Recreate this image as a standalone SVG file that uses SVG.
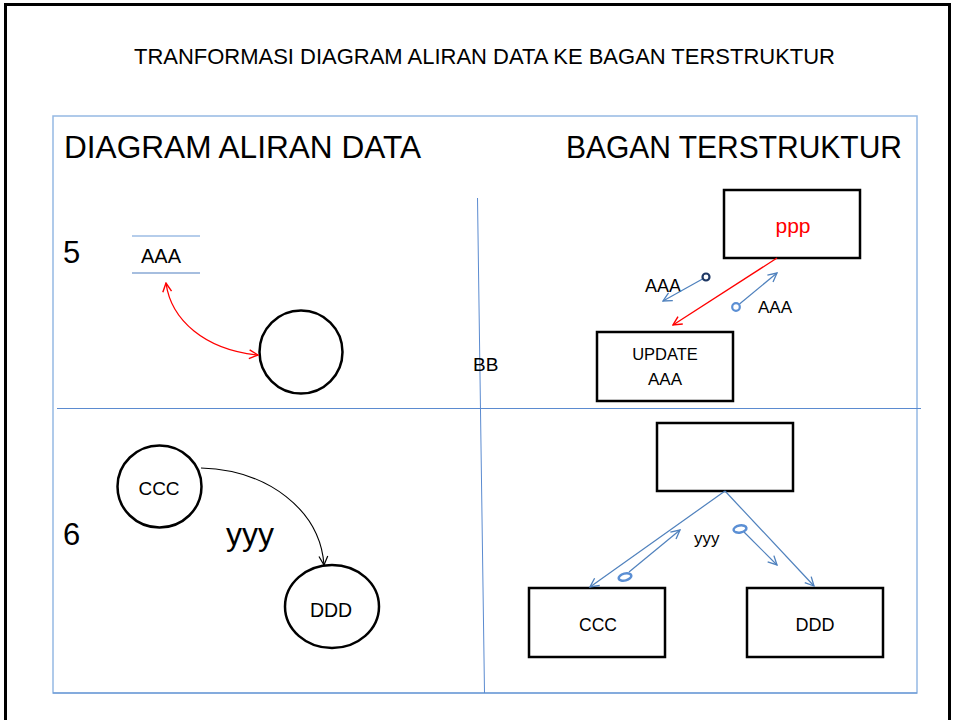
<svg xmlns="http://www.w3.org/2000/svg" width="954" height="720" viewBox="0 0 954 720">
  <style>
    text { font-family: "Liberation Sans", Arial, sans-serif; fill: #000; }
    .box { fill: #fff; stroke: #000; stroke-width: 2.5; }
    .bubble { fill: #fff; stroke: #000; stroke-width: 2.5; }
    .grid { stroke: #5b8bd0; stroke-width: 1; fill: none; }
    .flow-blue { stroke: #4f81bd; stroke-width: 1.2; fill: none; }
    .flow-red { stroke: #ff0000; stroke-width: 1.3; fill: none; }
    .flow-black { stroke: #000; stroke-width: 1.1; fill: none; }
    .couple { fill: #fff; stroke: #5b8fd4; stroke-width: 2.5; }
  </style>
  <defs>
    <marker id="arrow-red" viewBox="0 0 10 10" refX="9" refY="5" markerWidth="11" markerHeight="11" markerUnits="userSpaceOnUse" orient="auto-start-reverse">
      <path d="M1,1 L9,5 L1,9" fill="none" stroke="#ff0000" stroke-width="1.3"/>
    </marker>
    <marker id="arrow-blue" viewBox="0 0 10 10" refX="9" refY="5" markerWidth="11" markerHeight="11" markerUnits="userSpaceOnUse" orient="auto">
      <path d="M1,1 L9,5 L1,9" fill="none" stroke="#4f81bd" stroke-width="1.2"/>
    </marker>
    <marker id="arrow-black" viewBox="0 0 10 10" refX="9" refY="5" markerWidth="11" markerHeight="11" markerUnits="userSpaceOnUse" orient="auto">
      <path d="M1,1 L9,5 L1,9" fill="none" stroke="#000" stroke-width="1.1"/>
    </marker>
  </defs>

  <!-- page frame -->
  <rect x="0" y="0" width="954" height="720" fill="#fff"/>
  <rect x="5.5" y="4.5" width="944" height="740" fill="none" stroke="#000" stroke-width="3"/>

  <!-- title -->
  <text x="134" y="64" font-size="22" textLength="701" lengthAdjust="spacingAndGlyphs">TRANFORMASI DIAGRAM ALIRAN DATA KE BAGAN TERSTRUKTUR</text>

  <!-- panel frame and quadrant dividers -->
  <g id="panel">
    <rect x="53" y="116" width="864" height="577" fill="none" stroke="#95b9e4" stroke-width="1.5"/>
    <line x1="53" y1="693" x2="917" y2="693" stroke="#5b8bd0" stroke-width="1.2"/>
    <line class="grid" x1="57" y1="408.5" x2="921" y2="408.5"/>
    <line class="grid" x1="477.5" y1="198" x2="484.5" y2="693"/>
  </g>

  <!-- headings -->
  <text x="64" y="158" font-size="32" textLength="357" lengthAdjust="spacingAndGlyphs">DIAGRAM ALIRAN DATA</text>
  <text x="566" y="158" font-size="32" textLength="336" lengthAdjust="spacingAndGlyphs">BAGAN TERSTRUKTUR</text>
  <text x="63" y="263" font-size="31">5</text>
  <text x="63" y="545" font-size="31">6</text>
  <text x="473" y="371" font-size="19">BB</text>

  <!-- data flow diagram, case 5 -->
  <g id="store-aaa">
    <line x1="132" y1="236" x2="200" y2="236" stroke="#9cbde4" stroke-width="1.5"/>
    <line x1="132" y1="273" x2="200" y2="273" stroke="#4f7fc0" stroke-width="1.2"/>
    <text x="141" y="263" font-size="20">AAA</text>
  </g>
  <g id="process-5">
    <circle class="bubble" cx="301" cy="352" r="41.5"/>
  </g>

  <!-- data flow diagram, case 6 -->
  <g id="process-ccc">
    <ellipse class="bubble" cx="159.5" cy="486.5" rx="42" ry="41"/>
    <text x="159" y="495" font-size="19" text-anchor="middle">CCC</text>
  </g>
  <g id="process-ddd">
    <ellipse class="bubble" cx="332" cy="606.5" rx="47" ry="41.5"/>
    <text x="331" y="617" font-size="19.5" text-anchor="middle">DDD</text>
  </g>
  <text x="226" y="545" font-size="32">yyy</text>

  <!-- structure chart, case 5 -->
  <g id="module-ppp">
    <rect class="box" x="724" y="190" width="136" height="68"/>
    <text x="793" y="233" font-size="21" text-anchor="middle" style="fill:#ff0000">ppp</text>
  </g>
  <g id="module-update">
    <rect class="box" x="597" y="332" width="136" height="69"/>
    <text x="665" y="360" font-size="16.5" text-anchor="middle">UPDATE</text>
    <text x="665" y="385" font-size="17" text-anchor="middle">AAA</text>
  </g>
  <text x="645" y="292" font-size="18">AAA</text>
  <text x="758" y="313" font-size="17">AAA</text>

  <!-- structure chart, case 6 -->
  <g id="module-top">
    <rect class="box" x="657" y="423" width="136" height="68"/>
  </g>
  <g id="module-ccc">
    <rect class="box" x="529" y="588" width="136" height="69"/>
    <text x="598" y="631" font-size="17.5" text-anchor="middle">CCC</text>
  </g>
  <g id="module-ddd">
    <rect class="box" x="747" y="588" width="136" height="69"/>
    <text x="815" y="631" font-size="18" text-anchor="middle">DDD</text>
  </g>
  <text x="694" y="544" font-size="17">yyy</text>

  <!-- connectors -->
  <g id="connectors">
    <!-- case 5 data flow -->
    <path class="flow-red" d="M166,283 C171,320 205,350 258,355" marker-start="url(#arrow-red)" marker-end="url(#arrow-red)"/>
    <!-- case 6 data flow -->
    <path class="flow-black" d="M201,468 C268,470 320,510 324,565" marker-end="url(#arrow-black)"/>

    <!-- case 5 call and data couples -->
    <line class="flow-red" x1="777" y1="258" x2="673" y2="325" marker-end="url(#arrow-red)"/>
    <line class="flow-blue" x1="702.5" y1="279" x2="663" y2="301" marker-end="url(#arrow-blue)"/>
    <circle cx="706" cy="277" r="3.5" fill="#fff" stroke="#1f3864" stroke-width="2.2"/>
    <line class="flow-blue" x1="739.5" y1="304" x2="777" y2="273" marker-end="url(#arrow-blue)"/>
    <circle cx="736" cy="307" r="3.8" fill="#fff" stroke="#5b8fd4" stroke-width="2.2"/>

    <!-- case 6 calls and data couples -->
    <line class="flow-blue" x1="725" y1="491" x2="590" y2="587" marker-end="url(#arrow-blue)"/>
    <line class="flow-blue" x1="725" y1="491" x2="814" y2="586" marker-end="url(#arrow-blue)"/>
    <line class="flow-blue" x1="629" y1="572" x2="680" y2="530" marker-end="url(#arrow-blue)"/>
    <ellipse class="couple" cx="625" cy="577" rx="6.5" ry="3.5" transform="rotate(-15 625 577)"/>
    <line class="flow-blue" x1="744" y1="532" x2="777" y2="565" marker-end="url(#arrow-blue)"/>
    <ellipse class="couple" cx="740" cy="529" rx="6.5" ry="3.5" transform="rotate(-10 740 529)"/>
  </g>
</svg>
